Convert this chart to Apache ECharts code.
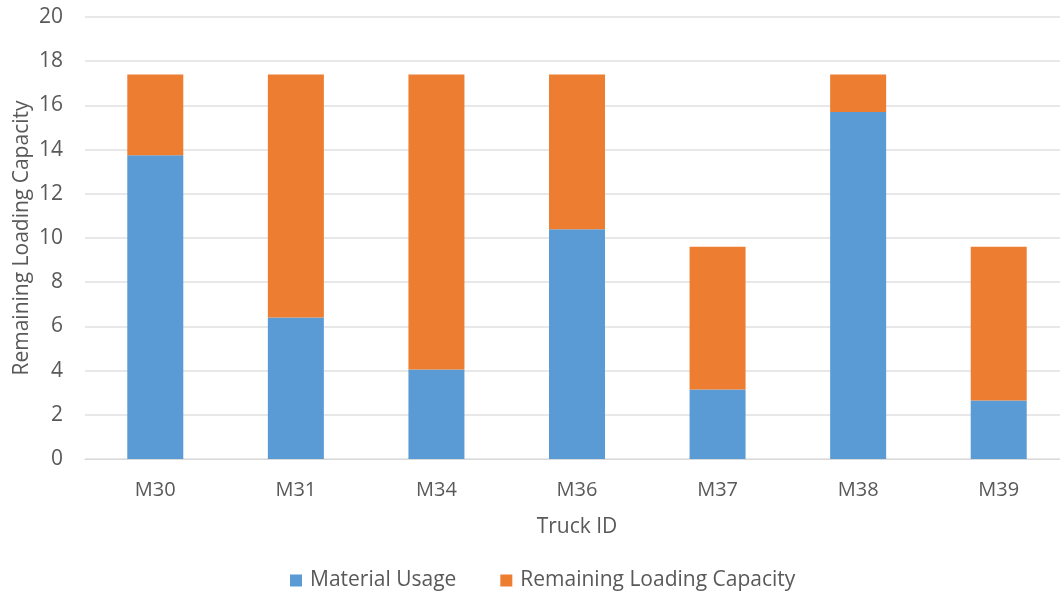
<!DOCTYPE html>
<html>
<head>
<meta charset="utf-8">
<script src="https://cdn.jsdelivr.net/npm/echarts@6/dist/echarts.min.js"></script>
<style>
  html, body { margin: 0; padding: 0; background: #ffffff; }
  #chart { width: 1060px; height: 592px; }
</style>
</head>
<body>
<div id="chart"></div>
<script>
// Truck loading: material used vs. capacity still available per truck
const trucks = ['M30', 'M31', 'M34', 'M36', 'M37', 'M38', 'M39'];
const materialUsage = [13.75, 6.4, 4.05, 10.4, 3.15, 15.7, 2.65];
const remainingCapacity = [3.65, 11.0, 13.35, 7.0, 6.45, 1.7, 6.95];
const yTicks = { min: 0, max: 20, interval: 2 };

const FONT = '"Open Sans", "Noto Sans", sans-serif';
const TEXT = '#595959';

const chart = echarts.init(document.getElementById('chart'), null, { renderer: 'canvas' });

chart.setOption({
  animation: false,
  textStyle: { fontFamily: FONT },
  color: ['#5b9bd5', '#ed7d31'],
  // plot area runs slightly past the right edge of the canvas
  grid: {
    left: 85, width: 984, top: 17, height: 442,
    containLabel: false,
    outerBoundsMode: 'none'
  },
  legend: {
    data: ['Material Usage', 'Remaining Loading Capacity'],
    top: 565,
    left: 285,
    itemWidth: 12,
    itemHeight: 12,
    itemGap: 44,
    icon: 'rect',
    textStyle: { color: TEXT, fontSize: 21, fontFamily: FONT, padding: [0, 0, 0, 3] }
  },
  xAxis: {
    type: 'category',
    data: trucks,
    name: 'Truck ID',
    nameLocation: 'middle',
    nameGap: 58,
    nameTextStyle: { color: TEXT, fontSize: 21, fontFamily: FONT },
    axisLine: { lineStyle: { color: '#d9d9d9', width: 1 } },
    axisTick: { show: false },
    axisLabel: { color: TEXT, fontSize: 20, margin: 21, fontFamily: FONT }
  },
  yAxis: {
    type: 'value',
    min: yTicks.min,
    max: yTicks.max,
    interval: yTicks.interval,
    name: 'Remaining Loading Capacity',
    nameLocation: 'middle',
    nameGap: 52,
    nameMoveOverlap: false,
    nameTextStyle: { color: TEXT, fontSize: 21, fontFamily: FONT },
    axisLine: { show: false },
    axisTick: { show: false },
    axisLabel: { color: TEXT, fontSize: 21, margin: 22, fontFamily: FONT },
    splitLine: { lineStyle: { color: '#e8e8e8', width: 2 } }
  },
  series: [
    {
      name: 'Material Usage',
      type: 'bar',
      stack: 'load',
      barWidth: 56,
      data: materialUsage
    },
    {
      name: 'Remaining Loading Capacity',
      type: 'bar',
      stack: 'load',
      barWidth: 56,
      data: remainingCapacity
    }
  ]
});
</script>
</body>
</html>
